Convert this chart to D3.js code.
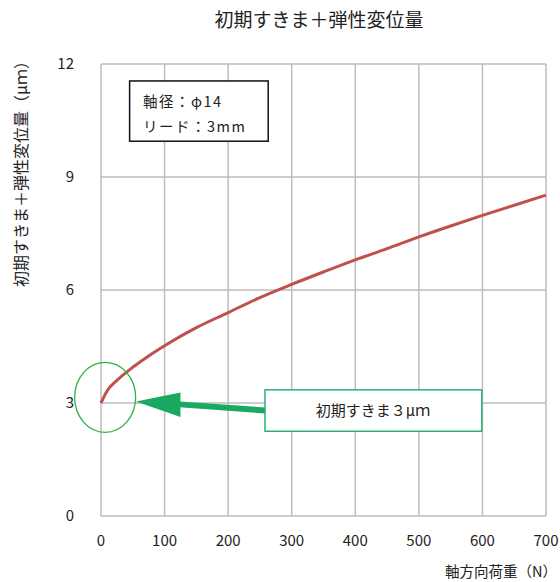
<!DOCTYPE html>
<html>
<head>
<meta charset="utf-8">
<script src="https://cdn.jsdelivr.net/npm/d3@7/dist/d3.min.js"></script>
<style>
	body { margin: 0; background: #fff; }
	text { font-family: "Noto Sans CJK JP", "Noto Sans", sans-serif; fill: #222; }
</style>
</head>
<body>
<div id="chart"></div>
<script>
// 軸方向荷重 (N) と 初期すきま＋弾性変位量 (μm)
const loads = [0, 10, 25, 50, 75, 100, 150, 200, 250, 300, 350, 400, 450, 500, 550, 600, 650, 700];
const displacement = [3.0, 3.33, 3.6, 3.95, 4.25, 4.52, 5.0, 5.4, 5.8, 6.15, 6.48, 6.8, 7.1, 7.41, 7.7, 7.98, 8.25, 8.52];
const xTicks = [0, 100, 200, 300, 400, 500, 600, 700];
const yTicks = [0, 3, 6, 9, 12];
const legendLines = ['軸径：φ14', 'リード：3mm'];
const calloutText = '初期すきま３μｍ';

const width = 560, height = 582;
const margin = { top: 64, right: 14, bottom: 66, left: 101 };

const svg = d3.select('#chart').append('svg')
	.attr('width', width)
	.attr('height', height);

const x = d3.scaleLinear()
	.domain([0, 700])
	.range([margin.left, width - margin.right]);
const y = d3.scaleLinear()
	.domain([0, 12])
	.range([height - margin.bottom, margin.top]);

// grid
const grid = svg.append('g');
grid.selectAll('.vg').data(xTicks).enter().append('line')
	.attr('x1', d => x(d)).attr('x2', d => x(d))
	.attr('y1', y(0)).attr('y2', y(12))
	.attr('stroke', '#bdbdbd').attr('stroke-width', 1.5);
grid.selectAll('.hg').data(yTicks).enter().append('line')
	.attr('x1', x(0)).attr('x2', x(700))
	.attr('y1', d => y(d)).attr('y2', d => y(d))
	.attr('stroke', '#bdbdbd').attr('stroke-width', 1.5);

// tick labels
svg.append('g').selectAll('text').data(xTicks).enter().append('text')
	.attr('x', d => x(d))
	.attr('y', y(0) + 30)
	.attr('text-anchor', 'middle')
	.attr('font-size', 15)
	.text(d => d);
svg.append('g').selectAll('text').data(yTicks).enter().append('text')
	.attr('x', 74)
	.attr('y', d => y(d))
	.attr('dy', '0.35em')
	.attr('text-anchor', 'end')
	.attr('font-size', 15)
	.text(d => d);

// titles
svg.append('text')
	.attr('x', 319).attr('y', 27)
	.attr('text-anchor', 'middle')
	.attr('font-size', 19)
	.text('初期すきま＋弾性変位量');
svg.append('text')
	.attr('transform', 'translate(27,170) rotate(-90)')
	.attr('text-anchor', 'middle')
	.attr('font-size', 16)
	.text('初期すきま＋弾性変位量（μｍ）');
svg.append('text')
	.attr('x', 557).attr('y', 577)
	.attr('text-anchor', 'end')
	.attr('font-size', 14.5)
	.text('軸方向荷重（N）');

// curve
const line = d3.line()
	.x((d, i) => x(loads[i]))
	.y(d => y(d))
	.curve(d3.curveMonotoneX);
svg.append('path')
	.datum(displacement)
	.attr('d', line)
	.attr('fill', 'none')
	.attr('stroke', '#c0504d')
	.attr('stroke-width', 3);

// legend box
const lg = svg.append('g');
lg.append('rect')
	.attr('x', x(45)).attr('y', y(11.55))
	.attr('width', x(263) - x(45)).attr('height', y(9.95) - y(11.55))
	.attr('fill', '#fff').attr('stroke', '#111').attr('stroke-width', 1.5);
lg.selectAll('text').data(legendLines).enter().append('text')
	.attr('x', x(66))
	.attr('y', (d, i) => y(11.0 - i * 0.68))
	.attr('dy', '0.35em')
	.attr('font-size', 14.5)
	.attr('letter-spacing', 1.5)
	.text(d => d);

// annotation
const green = '#19a960';
svg.append('ellipse')
	.attr('cx', x(6.5)).attr('cy', y(3.15))
	.attr('rx', x(48) - x(0)).attr('ry', y(0) - y(0.93))
	.attr('fill', 'none').attr('stroke', '#2fb044').attr('stroke-width', 1.3);

svg.append('line')
	.attr('x1', x(118)).attr('y1', y(2.97))
	.attr('x2', x(259)).attr('y2', y(2.8))
	.attr('stroke', green).attr('stroke-width', 6);
svg.append('path')
	.attr('d', `M${x(55)},${y(3.04)} L${x(125)},${y(3.28)} L${x(125)},${y(2.63)} Z`)
	.attr('fill', green);

svg.append('rect')
	.attr('x', x(258)).attr('y', y(3.35))
	.attr('width', x(599) - x(258)).attr('height', y(2.25) - y(3.35))
	.attr('fill', '#fff').attr('stroke', '#2cb070').attr('stroke-width', 1.5);
svg.append('text')
	.attr('x', x(428)).attr('y', y(2.8))
	.attr('dy', '0.35em')
	.attr('text-anchor', 'middle')
	.attr('font-size', 15)
	.text(calloutText);
</script>
</body>
</html>
